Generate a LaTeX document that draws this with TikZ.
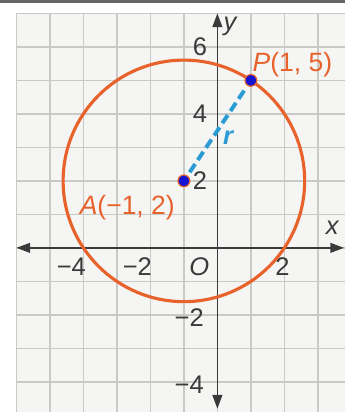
\documentclass[tikz,border=0pt]{standalone}
\usepackage{fontspec}
\setmainfont{Liberation Sans}
\usetikzlibrary{arrows.meta}
\definecolor{rimorange}{HTML}{E8622C}
\definecolor{dotblue}{HTML}{1414D2}
\definecolor{dashblue}{HTML}{2B9BD3}
\definecolor{gridgray}{HTML}{C9C9C7}
\definecolor{paper}{HTML}{F5F5F3}
\definecolor{inkgray}{HTML}{3A3A3A}
\tikzset{
    axisline/.style={inkgray, line width=0.8pt, {Triangle[length=7pt,width=5pt]}-{Triangle[length=7pt,width=5pt]}},
    ticklabel/.style={inkgray, inner sep=0pt},
    ptdot/.style={circle, fill=dotblue, draw=rimorange, line width=0.6pt, inner sep=0pt, minimum size=6pt},
    ptlabel/.style={rimorange, font=\fontsize{13.5}{16}\selectfont, inner sep=0pt}
}
\begin{document}
\begin{tikzpicture}[x=0.6cm, y=0.6cm, font=\fontsize{13}{15}\selectfont]
    % Frame and paper
    \useasboundingbox (-6.49, -4.9) rectangle (3.81, 7.4);
    \fill[white] (-6.49, -4.9) rectangle (3.81, 7.4);
    \fill[gray!80!black] (-6.49, 7.31) rectangle (3.81, 7.4);
    \fill[paper] (-6, -4.9) rectangle (3.81, 7);

    % Grid
    \foreach \x in {-6,...,3} {
        \draw[gridgray, line width=0.7pt] (\x, -4.9) -- (\x, 7);
    }
    \foreach \y in {-4,...,7} {
        \draw[gridgray, line width=0.7pt] (-6, \y) -- (3.81, \y);
    }

    % Axes
    \coordinate (xl) at (-6, 0);
    \coordinate (xr) at (3.78, 0);
    \coordinate (yb) at (0, -4.8);
    \coordinate (yt) at (0, 7);
    \draw[axisline] (xl) -- (xr);
    \draw[axisline] (yb) -- (yt);
    \node[inkgray, font=\fontsize{13}{15}\selectfont\itshape] (xname) at (3.43, 0.6) {x};
    \node[inkgray, font=\fontsize{13}{15}\selectfont\itshape] (yname) at (0.38, 6.62) {y};

    % Tick labels
    \foreach \y/\lab in {6/6, 4/4, 2/2} {
        \node[ticklabel] (ly\y) at (-0.52, \y) {\lab};
    }
    \foreach \y/\lab in {-2/−2, -4/−4} {
        \node[ticklabel] (ly\y) at (-0.84, \y-0.08) {\lab};
    }
    \foreach \x/\lab in {-4.36/−4, -2.39/−2, 1.94/2} {
        \node[ticklabel] (lx\x) at (\x, -0.57) {\lab};
    }
    \node[ticklabel, font=\fontsize{13}{15}\selectfont\itshape] (origin) at (-0.54, -0.57) {O};

    % Circle centred at A with radius sqrt(13)
    \draw[rimorange, line width=1.6pt] (-1, 2) circle ({sqrt(13)});

    % Points and radius
    \node[ptdot] (A) at (-1, 2) {};
    \node[ptdot] (P) at (1, 5) {};
    \draw[dashblue, line width=2pt, dash pattern=on 5pt off 2.5pt, shorten <=2pt, shorten >=2pt] (A) -- (P);
    \node[dashblue, font=\fontsize{13}{15}\selectfont\bfseries\itshape] (rlab) at (0.32, 3.3) {r};

    % Point labels
    \node[ptlabel] (Plab) at (2.24, 5.46) {\textit{P}(1, 5)};
    \node[ptlabel] (Alab) at (-2.69, 1.19) {\textit{A}(−1, 2)};
\end{tikzpicture}
\end{document}
